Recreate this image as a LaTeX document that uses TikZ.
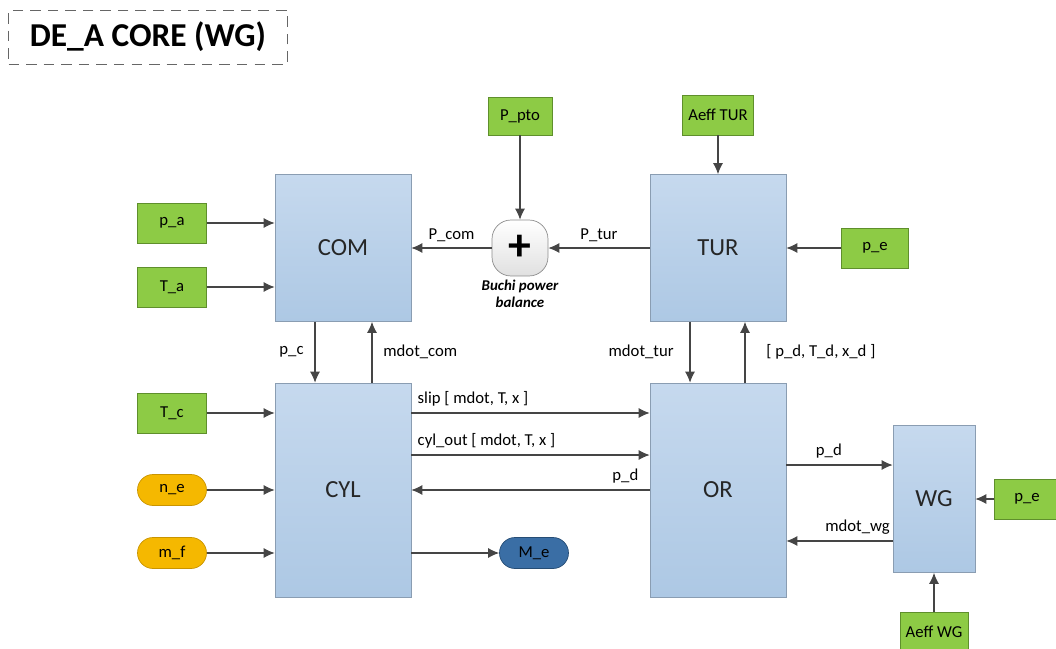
\documentclass[tikz,border=0pt]{standalone}
\usepackage{fontspec}
\setmainfont{Carlito}
\usetikzlibrary{arrows.meta}
\definecolor{blocktop}{HTML}{C6D9EE}
\definecolor{blockbot}{HTML}{ADC8E4}
\definecolor{blockline}{HTML}{8A9DB2}
\definecolor{inputgreen}{HTML}{8DCB45}
\definecolor{inputline}{HTML}{5F8F2C}
\definecolor{pillyellow}{HTML}{F5B800}
\definecolor{pillline}{HTML}{C99400}
\definecolor{pillblue}{HTML}{3A6EA5}
\definecolor{pillblueline}{HTML}{264D75}
\definecolor{wire}{HTML}{454545}
\tikzstyle{block}=[draw=blockline, top color=blocktop, bottom color=blockbot, minimum width=2.72cm, font=\fontsize{14}{16}\selectfont, text=black!85]
\tikzstyle{input}=[draw=inputline, fill=inputgreen, minimum width=1.38cm, minimum height=0.8cm, font=\fontsize{9.5}{11}\selectfont]
\tikzstyle{pill}=[draw=pillline, fill=pillyellow, rounded corners=0.31cm, minimum width=1.38cm, minimum height=0.62cm, font=\fontsize{9.5}{11}\selectfont]
\tikzstyle{output pill}=[pill, draw=pillblueline, fill=pillblue]
\tikzstyle{sum}=[draw=black!45, top color=white, bottom color=black!12, rounded corners=0.38cm, minimum size=1.12cm]
\tikzstyle{signal}=[draw=wire, semithick, -{Latex[length=2.2mm,width=2mm]}]
\tikzstyle{lbl}=[font=\fontsize{9.5}{11}\selectfont]

\begin{document}
\begin{tikzpicture}[x=0.02cm, y=-0.02cm]
  \useasboundingbox (0,0) rectangle (1056,649);
  % title
  \node[draw=black!60, dashed, dash pattern=on 6pt off 4pt, minimum width=5.58cm, minimum height=1.08cm, font=\fontsize{19}{22}\selectfont\bfseries] (title) at (148,37) {DE\_A CORE (WG)};

  % main blocks
  \node[block, minimum height=2.94cm] (com) at (343,248) {COM};
  \node[block, minimum height=2.94cm] (tur) at (718,248) {TUR};
  \node[block, minimum height=4.28cm] (cyl) at (343,490) {CYL};
  \node[block, minimum height=4.28cm] (or) at (718,490) {OR};
  \node[block, minimum width=1.64cm, minimum height=2.94cm] (wg) at (934,499) {WG};
  \node[sum] (bal) at (520,248) {\fontsize{26}{26}\selectfont\bfseries +};
  \node[font=\fontsize{8.5}{10}\selectfont\bfseries\itshape, align=center] (ballabel) at (520,294) {Buchi power\\balance};

  % inputs
  \node[input, minimum width=1.28cm, minimum height=0.76cm] (ppto) at (520,116) {P\_pto};
  \node[input, minimum width=1.3cm] (aefftur) at (718,115) {Aeff TUR};
  \node[input] (pa) at (172,223) {p\_a};
  \node[input] (ta) at (172,287) {T\_a};
  \node[input, minimum width=1.34cm] (petur) at (875,248) {p\_e};
  \node[input] (tc) at (172,413) {T\_c};
  \node[input, minimum width=1.3cm] (pewg) at (1027,499) {p\_e};
  \node[input, minimum width=1.36cm] (aeffwg) at (934,632) {Aeff WG};
  \node[pill] (ne) at (172,490) {n\_e};
  \node[pill] (mf) at (172,553) {m\_f};
  \node[output pill] (me) at (534,553) {M\_e};

  % power balance
  \draw[signal] (pa) -- (pa -| com.west);
  \draw[signal] (ta) -- (ta -| com.west);
  \draw[signal] (ppto) -- (bal);
  \draw[signal] (aefftur) -- (tur);
  \draw[signal] (petur) -- (tur);
  \draw[signal] (bal) -- node[lbl, above] {P\_com} (com);
  \draw[signal] (tur) -- node[lbl, above] {P\_tur} (bal);

  % COM <-> CYL, TUR <-> OR
  \draw[signal] ([xshift=-0.56cm]com.south) -- node[lbl, left, xshift=-0.1cm] {p\_c} ([xshift=-0.56cm]cyl.north);
  \draw[signal] ([xshift=0.58cm]cyl.north) -- node[lbl, right, xshift=0.1cm] {mdot\_com} ([xshift=0.58cm]com.south);
  \draw[signal] ([xshift=-0.56cm]tur.south) -- node[lbl, left, xshift=-0.2cm] {mdot\_tur} ([xshift=-0.56cm]or.north);
  \draw[signal] ([xshift=0.54cm]or.north) -- node[lbl, right, xshift=0.3cm] {[ p\_d, T\_d, x\_d ]} ([xshift=0.54cm]tur.south);

  % CYL
  \draw[signal] (tc) -- (tc -| cyl.west);
  \draw[signal] (ne) -- (ne -| cyl.west);
  \draw[signal] (mf) -- (mf -| cyl.west);
  \draw[signal] (cyl.east |- me) -- (me);
  \draw[signal] (cyl.east |- tc) -- node[lbl, above right, pos=0] {slip [ mdot, T, x ]} (or.west |- tc);
  \draw[signal] ([yshift=0.7cm]cyl.east) -- node[lbl, above right, pos=0] {cyl\_out [ mdot, T, x ]} ([yshift=0.7cm]or.west);
  \draw[signal] (or.west) -- node[lbl, above left, pos=0, xshift=-0.1cm] {p\_d} (cyl.east);

  % OR <-> WG
  \draw[signal] ([yshift=0.5cm]or.east) -- node[lbl, above, pos=0.4] {p\_d} ([yshift=0.5cm]or.east -| wg.west);
  \draw[signal] ([yshift=-1.02cm]or.east -| wg.west) -- node[lbl, above, pos=0.33] {mdot\_wg} ([yshift=-1.02cm]or.east);
  \draw[signal] (pewg) -- (pewg -| wg.east);
  \draw[signal] (aeffwg) -- (wg);
\end{tikzpicture}
\end{document}
